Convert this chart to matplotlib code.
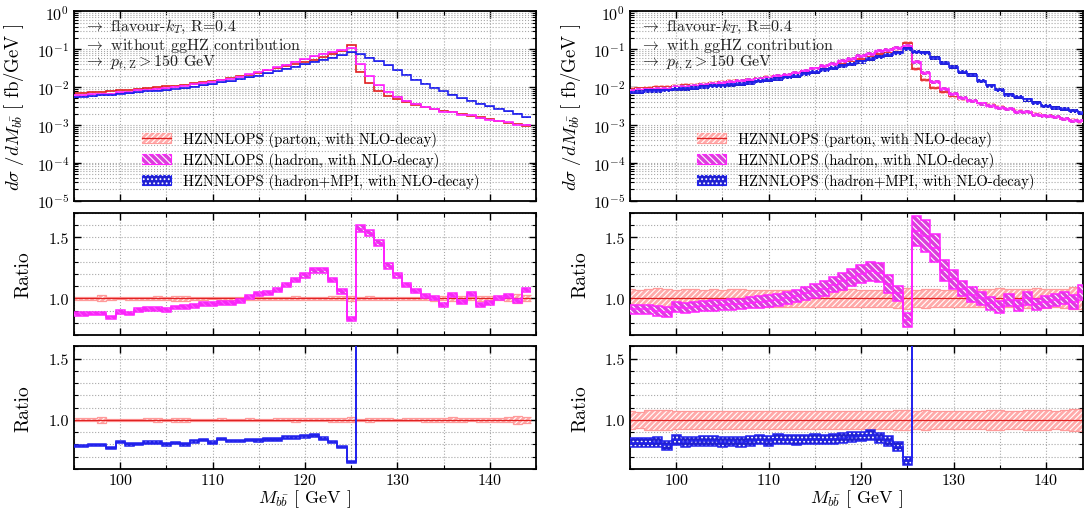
import numpy as np
import matplotlib
matplotlib.use('Agg')
import matplotlib.pyplot as plt
from matplotlib.patches import Patch
from matplotlib.lines import Line2D
from matplotlib.ticker import MultipleLocator, LogLocator, NullFormatter, FormatStrFormatter

plt.rcParams['font.family'] = ['cmr10', 'DejaVu Serif']
plt.rcParams['mathtext.fontset'] = 'cm'
plt.rcParams['axes.formatter.use_mathtext'] = True
plt.rcParams['hatch.linewidth'] = 0.8

# 1 GeV bins centred on 95 ... 144 GeV
bin_edges = np.arange(94.5, 145.0, 1.0)

# ---- without ggHZ ----
parton_L = [6.9e-3, 7.1e-3, 7.3e-3, 7.6e-3, 7.9e-3, 8.2e-3, 8.6e-3, 9.0e-3, 9.4e-3, 9.9e-3,
            1.04e-2, 1.10e-2, 1.17e-2, 1.25e-2, 1.34e-2, 1.45e-2, 1.58e-2, 1.74e-2, 1.93e-2, 2.15e-2,
            2.42e-2, 2.75e-2, 3.12e-2, 3.55e-2, 4.05e-2, 4.65e-2, 5.35e-2, 6.2e-2, 7.3e-2, 8.9e-2,
            0.128, 2.56e-2, 1.28e-2, 7.7e-3, 5.9e-3, 4.7e-3, 3.95e-3, 3.4e-3, 2.98e-3, 2.65e-3,
            2.38e-3, 2.13e-3, 1.92e-3, 1.73e-3, 1.57e-3, 1.42e-3, 1.28e-3, 1.15e-3, 1.04e-3, 9.4e-4]
had_ratio_L = [0.87, 0.87, 0.875, 0.875, 0.845, 0.89, 0.875, 0.905, 0.91, 0.915,
               0.905, 0.925, 0.93, 0.94, 0.955, 0.955, 0.962, 0.965, 0.98, 1.013,
               1.035, 1.045, 1.07, 1.11, 1.15, 1.19, 1.23, 1.23, 1.15, 1.057,
               0.83, 1.57, 1.535, 1.45, 1.265, 1.19, 1.11, 1.06, 1.016, 1.005,
               0.946, 1.03, 0.97, 1.035, 0.946, 0.96, 1.005, 1.02, 0.98, 1.07]
mpi_ratio_L = [0.79, 0.79, 0.795, 0.795, 0.77, 0.82, 0.80, 0.805, 0.815, 0.815,
               0.80, 0.81, 0.80, 0.825, 0.835, 0.815, 0.845, 0.83, 0.83, 0.838,
               0.833, 0.842, 0.842, 0.855, 0.858, 0.865, 0.875, 0.848, 0.818, 0.782,
               0.66, 2.93, 4.69, 6.36, 6.44, 5.96, 5.32, 4.65, 4.09, 3.62,
               3.24, 2.91, 2.66, 2.49, 2.29, 2.18, 2.11, 2.0, 1.92, 1.70]
parton_err_L = [0.012, 0.012, 0.012, 0.025, 0.01, 0.008, 0.01, 0.01, 0.012, 0.015,
                0.01, 0.018, 0.018, 0.01, 0.01, 0.008, 0.012, 0.01, 0.01, 0.012,
                0.01, 0.01, 0.012, 0.012, 0.015, 0.012, 0.012, 0.012, 0.015, 0.015,
                0.02, 0.01, 0.015, 0.012, 0.012, 0.01, 0.012, 0.012, 0.015, 0.018,
                0.015, 0.02, 0.015, 0.012, 0.018, 0.015, 0.015, 0.02, 0.035, 0.025]
had_err_L = 0.017
mpi_err_L = 0.012
main_err_L = 0.03

# ---- with ggHZ ----
parton_R = [8.9e-3, 9.2e-3, 9.5e-3, 9.9e-3, 1.03e-2, 1.07e-2, 1.12e-2, 1.17e-2, 1.22e-2, 1.28e-2,
            1.35e-2, 1.42e-2, 1.50e-2, 1.59e-2, 1.70e-2, 1.82e-2, 1.97e-2, 2.15e-2, 2.36e-2, 2.62e-2,
            2.93e-2, 3.30e-2, 3.72e-2, 4.22e-2, 4.80e-2, 5.50e-2, 6.30e-2, 7.30e-2, 8.6e-2, 0.105,
            0.150, 3.0e-2, 1.55e-2, 9.6e-3, 7.3e-3, 5.8e-3, 4.9e-3, 4.2e-3, 3.7e-3, 3.3e-3,
            2.95e-3, 2.65e-3, 2.4e-3, 2.15e-3, 1.95e-3, 1.78e-3, 1.6e-3, 1.45e-3, 1.32e-3, 1.2e-3]
had_ratio_R = [0.91, 0.91, 0.91, 0.895, 0.89, 0.93, 0.92, 0.93, 0.935, 0.94,
               0.945, 0.95, 0.955, 0.965, 0.97, 0.98, 0.99, 1.0, 1.02, 1.04,
               1.06, 1.08, 1.11, 1.14, 1.17, 1.20, 1.22, 1.21, 1.12, 1.04,
               0.82, 1.55, 1.51, 1.41, 1.23, 1.155, 1.08, 1.03, 1.0, 0.96,
               0.93, 0.99, 0.94, 1.0, 0.95, 0.97, 0.99, 1.0, 0.97, 1.05]
mpi_ratio_R = [0.815, 0.815, 0.815, 0.82, 0.795, 0.835, 0.82, 0.825, 0.83, 0.83,
               0.82, 0.825, 0.82, 0.83, 0.84, 0.83, 0.845, 0.84, 0.835, 0.84,
               0.845, 0.84, 0.845, 0.855, 0.86, 0.865, 0.875, 0.855, 0.83, 0.78,
               0.665, 2.9, 5.06, 6.0, 5.85, 5.98, 5.24, 5.02, 4.0, 3.35,
               2.88, 2.38, 2.33, 2.19, 1.95, 1.74, 1.75, 1.79, 1.75, 1.75]
parton_err_R = [0.075, 0.065, 0.08, 0.085, 0.08, 0.07, 0.075, 0.075, 0.07, 0.075,
                0.07, 0.075, 0.075, 0.07, 0.07, 0.07, 0.072, 0.07, 0.07, 0.072,
                0.07, 0.07, 0.072, 0.07, 0.075, 0.07, 0.07, 0.072, 0.075, 0.08,
                0.085, 0.07, 0.08, 0.075, 0.07, 0.07, 0.072, 0.075, 0.075, 0.08,
                0.085, 0.075, 0.075, 0.08, 0.085, 0.08, 0.075, 0.08, 0.09, 0.09]
had_err_R = [0.04, 0.04, 0.04, 0.045, 0.045, 0.045, 0.045, 0.045, 0.045, 0.045,
             0.045, 0.045, 0.045, 0.045, 0.05, 0.05, 0.05, 0.05, 0.05, 0.05,
             0.055, 0.055, 0.055, 0.06, 0.06, 0.06, 0.065, 0.065, 0.065, 0.06,
             0.07, 0.08, 0.085, 0.08, 0.07, 0.065, 0.06, 0.06, 0.055, 0.055,
             0.055, 0.05, 0.05, 0.055, 0.05, 0.05, 0.05, 0.05, 0.055, 0.06]
mpi_err_R = 0.047
main_err_R = 0.12

labels = ['HZNNLOPS (parton, with NLO-decay)',
          'HZNNLOPS (hadron, with NLO-decay)',
          'HZNNLOPS (hadron+MPI, with NLO-decay)']
notes_L = [r'$\rightarrow$ flavour-$k_T$, R=0.4', r'$\rightarrow$ without ggHZ contribution',
           r'$\rightarrow$ $p_{t,\mathrm{Z}} > 150$ GeV']
notes_R = [r'$\rightarrow$ flavour-$k_T$, R=0.4', r'$\rightarrow$ with ggHZ contribution',
           r'$\rightarrow$ $p_{t,\mathrm{Z}} > 150$ GeV']

RED = '#e02222'
PINK = '#ffaaaa'
PINK_EDGE = '#ff9a9a'
MAG = '#ff22ff'
MAG_BAND = '#dd3ddd'
BLUE = '#2222ee'
BLUE_BAND = '#2020d0'
styles = {
    'parton': dict(face=PINK, edge=PINK_EDGE, hatch='//////', line=RED),
    'hadron': dict(face=MAG_BAND, edge=MAG, hatch='\\\\\\\\\\', line=MAG),
    'mpi': dict(face=BLUE_BAND, edge=BLUE, hatch='....', line=BLUE),
}


def band(ax, center, err, st, lw=1.0, z=2, outline=True):
    center = np.asarray(center, dtype=float)
    lo = center * (1 - np.asarray(err))
    hi = center * (1 + np.asarray(err))
    ax.stairs(hi, bin_edges, baseline=lo, fill=True, facecolor=st['face'],
              edgecolor='none', zorder=z)
    ax.stairs(hi, bin_edges, baseline=lo, fill=True, facecolor='none',
              edgecolor='white', hatch=st['hatch'], linewidth=0, zorder=z)
    if outline:
        ax.stairs(hi, bin_edges, baseline=None, color=st['edge'], lw=lw, zorder=z + 0.1)
        ax.stairs(lo, bin_edges, baseline=None, color=st['edge'], lw=lw, zorder=z + 0.1)
    ax.stairs(center, bin_edges, baseline=None, color=st['line'], lw=lw, zorder=z + 0.2)


def style_axis(ax, xmax):
    ax.set_xlim(95, xmax)
    ax.xaxis.set_major_locator(MultipleLocator(10))
    ax.xaxis.set_minor_locator(MultipleLocator(5))
    ax.tick_params(which='both', direction='in', top=True, right=True, labelsize=11.5)
    ax.tick_params(which='major', length=5, width=1.0)
    ax.tick_params(which='minor', length=3, width=0.8)
    ax.tick_params(axis='x', pad=2.5)
    ax.grid(True, which='both', ls=':', color='#a8a8a8', lw=0.8)
    ax.set_axisbelow(True)
    for s in ax.spines.values():
        s.set_linewidth(1.3)


def legend_handles():
    hs = []
    for key in ['parton', 'hadron', 'mpi']:
        st = styles[key]
        parts = [Patch(facecolor=st['face'], edgecolor=st['edge'], lw=0.8),
                 Patch(facecolor='none', edgecolor='white', hatch=st['hatch'], lw=0)]
        if key == 'parton':
            parts.append(Line2D([], [], color=RED, lw=0.9))
        hs.append(tuple(parts))
    return hs


fig = plt.figure(figsize=(10.89, 5.10), dpi=100)

columns = [
    (0.0680, 0.4242, 145, parton_L, had_ratio_L, mpi_ratio_L, parton_err_L, had_err_L, mpi_err_L,
     main_err_L, notes_L),
    (0.5785, 0.4160, 144, parton_R, had_ratio_R, mpi_ratio_R, parton_err_R, had_err_R, mpi_err_R,
     main_err_R, notes_R),
]

for x0, w, xmax, parton, had_r, mpi_r, p_err, h_err, m_err, main_err, notes in columns:
    parton = np.asarray(parton)
    had_r = np.asarray(had_r)
    mpi_r = np.asarray(mpi_r)
    hadron = parton * had_r
    mpi = parton * mpi_r

    ax_m = fig.add_axes([x0, 0.6049, w, 0.3706])
    ax_r1 = fig.add_axes([x0, 0.3412, w, 0.2396])
    ax_r2 = fig.add_axes([x0, 0.0784, w, 0.2406])

    # main distribution
    band(ax_m, parton, main_err, styles['parton'], lw=1.2, z=2, outline=False)
    band(ax_m, hadron, main_err, styles['hadron'], lw=1.2, z=3, outline=False)
    band(ax_m, mpi, main_err, styles['mpi'], lw=1.2, z=4, outline=False)
    ax_m.set_yscale('log')
    ax_m.set_ylim(1e-5, 1)
    ax_m.yaxis.set_major_locator(LogLocator(base=10, numticks=10))
    ax_m.yaxis.set_minor_locator(LogLocator(base=10, subs=np.arange(2, 10), numticks=20))
    ax_m.yaxis.set_minor_formatter(NullFormatter())
    style_axis(ax_m, xmax)
    ax_m.tick_params(labelbottom=False)
    ax_m.set_ylabel(r'$d\sigma\ /dM_{b\bar{b}}$ [ fb/GeV ]', fontsize=13.5)
    ax_m.yaxis.set_label_coords(-0.104, 0.5)
    for i, t in enumerate(notes):
        ax_m.text(0.022, 0.922 - i * 0.095, t, transform=ax_m.transAxes,
                  fontsize=11.5, va='center', ha='left', color='#222222')
    ax_m.legend(legend_handles(), labels, loc='lower left', bbox_to_anchor=(0.135, 0.03),
                frameon=False, fontsize=10.5, handlelength=2.0, handleheight=0.65,
                labelspacing=0.35, handletextpad=0.8, borderaxespad=0)

    # hadron / parton
    ones = np.ones_like(parton)
    band(ax_r1, ones, p_err, styles['parton'], lw=0.9, z=2, outline=True)
    band(ax_r1, had_r, h_err, styles['hadron'], lw=1.1, z=3, outline=True)
    ax_r1.set_ylim(0.7, 1.7)

    # (hadron+MPI) / parton
    band(ax_r2, ones, p_err, styles['parton'], lw=0.9, z=2, outline=True)
    band(ax_r2, mpi_r, m_err, styles['mpi'], lw=1.1, z=3, outline=True)
    ax_r2.set_ylim(0.6, 1.6)

    for ax in (ax_r1, ax_r2):
        style_axis(ax, xmax)
        ax.yaxis.set_major_locator(MultipleLocator(0.5))
        ax.yaxis.set_minor_locator(MultipleLocator(0.1))
        ax.yaxis.set_major_formatter(FormatStrFormatter('%.1f'))
        ax.set_ylabel('Ratio', fontsize=14)
        ax.yaxis.set_label_coords(-0.09, 0.5)
    ax_r1.tick_params(labelbottom=False)
    ax_r2.set_xlabel(r'$M_{b\bar{b}}$ [ GeV ]', fontsize=13, va='top')
    ax_r2.xaxis.set_label_coords(0.5, -0.148)

fig.savefig('out.png', dpi=100)
